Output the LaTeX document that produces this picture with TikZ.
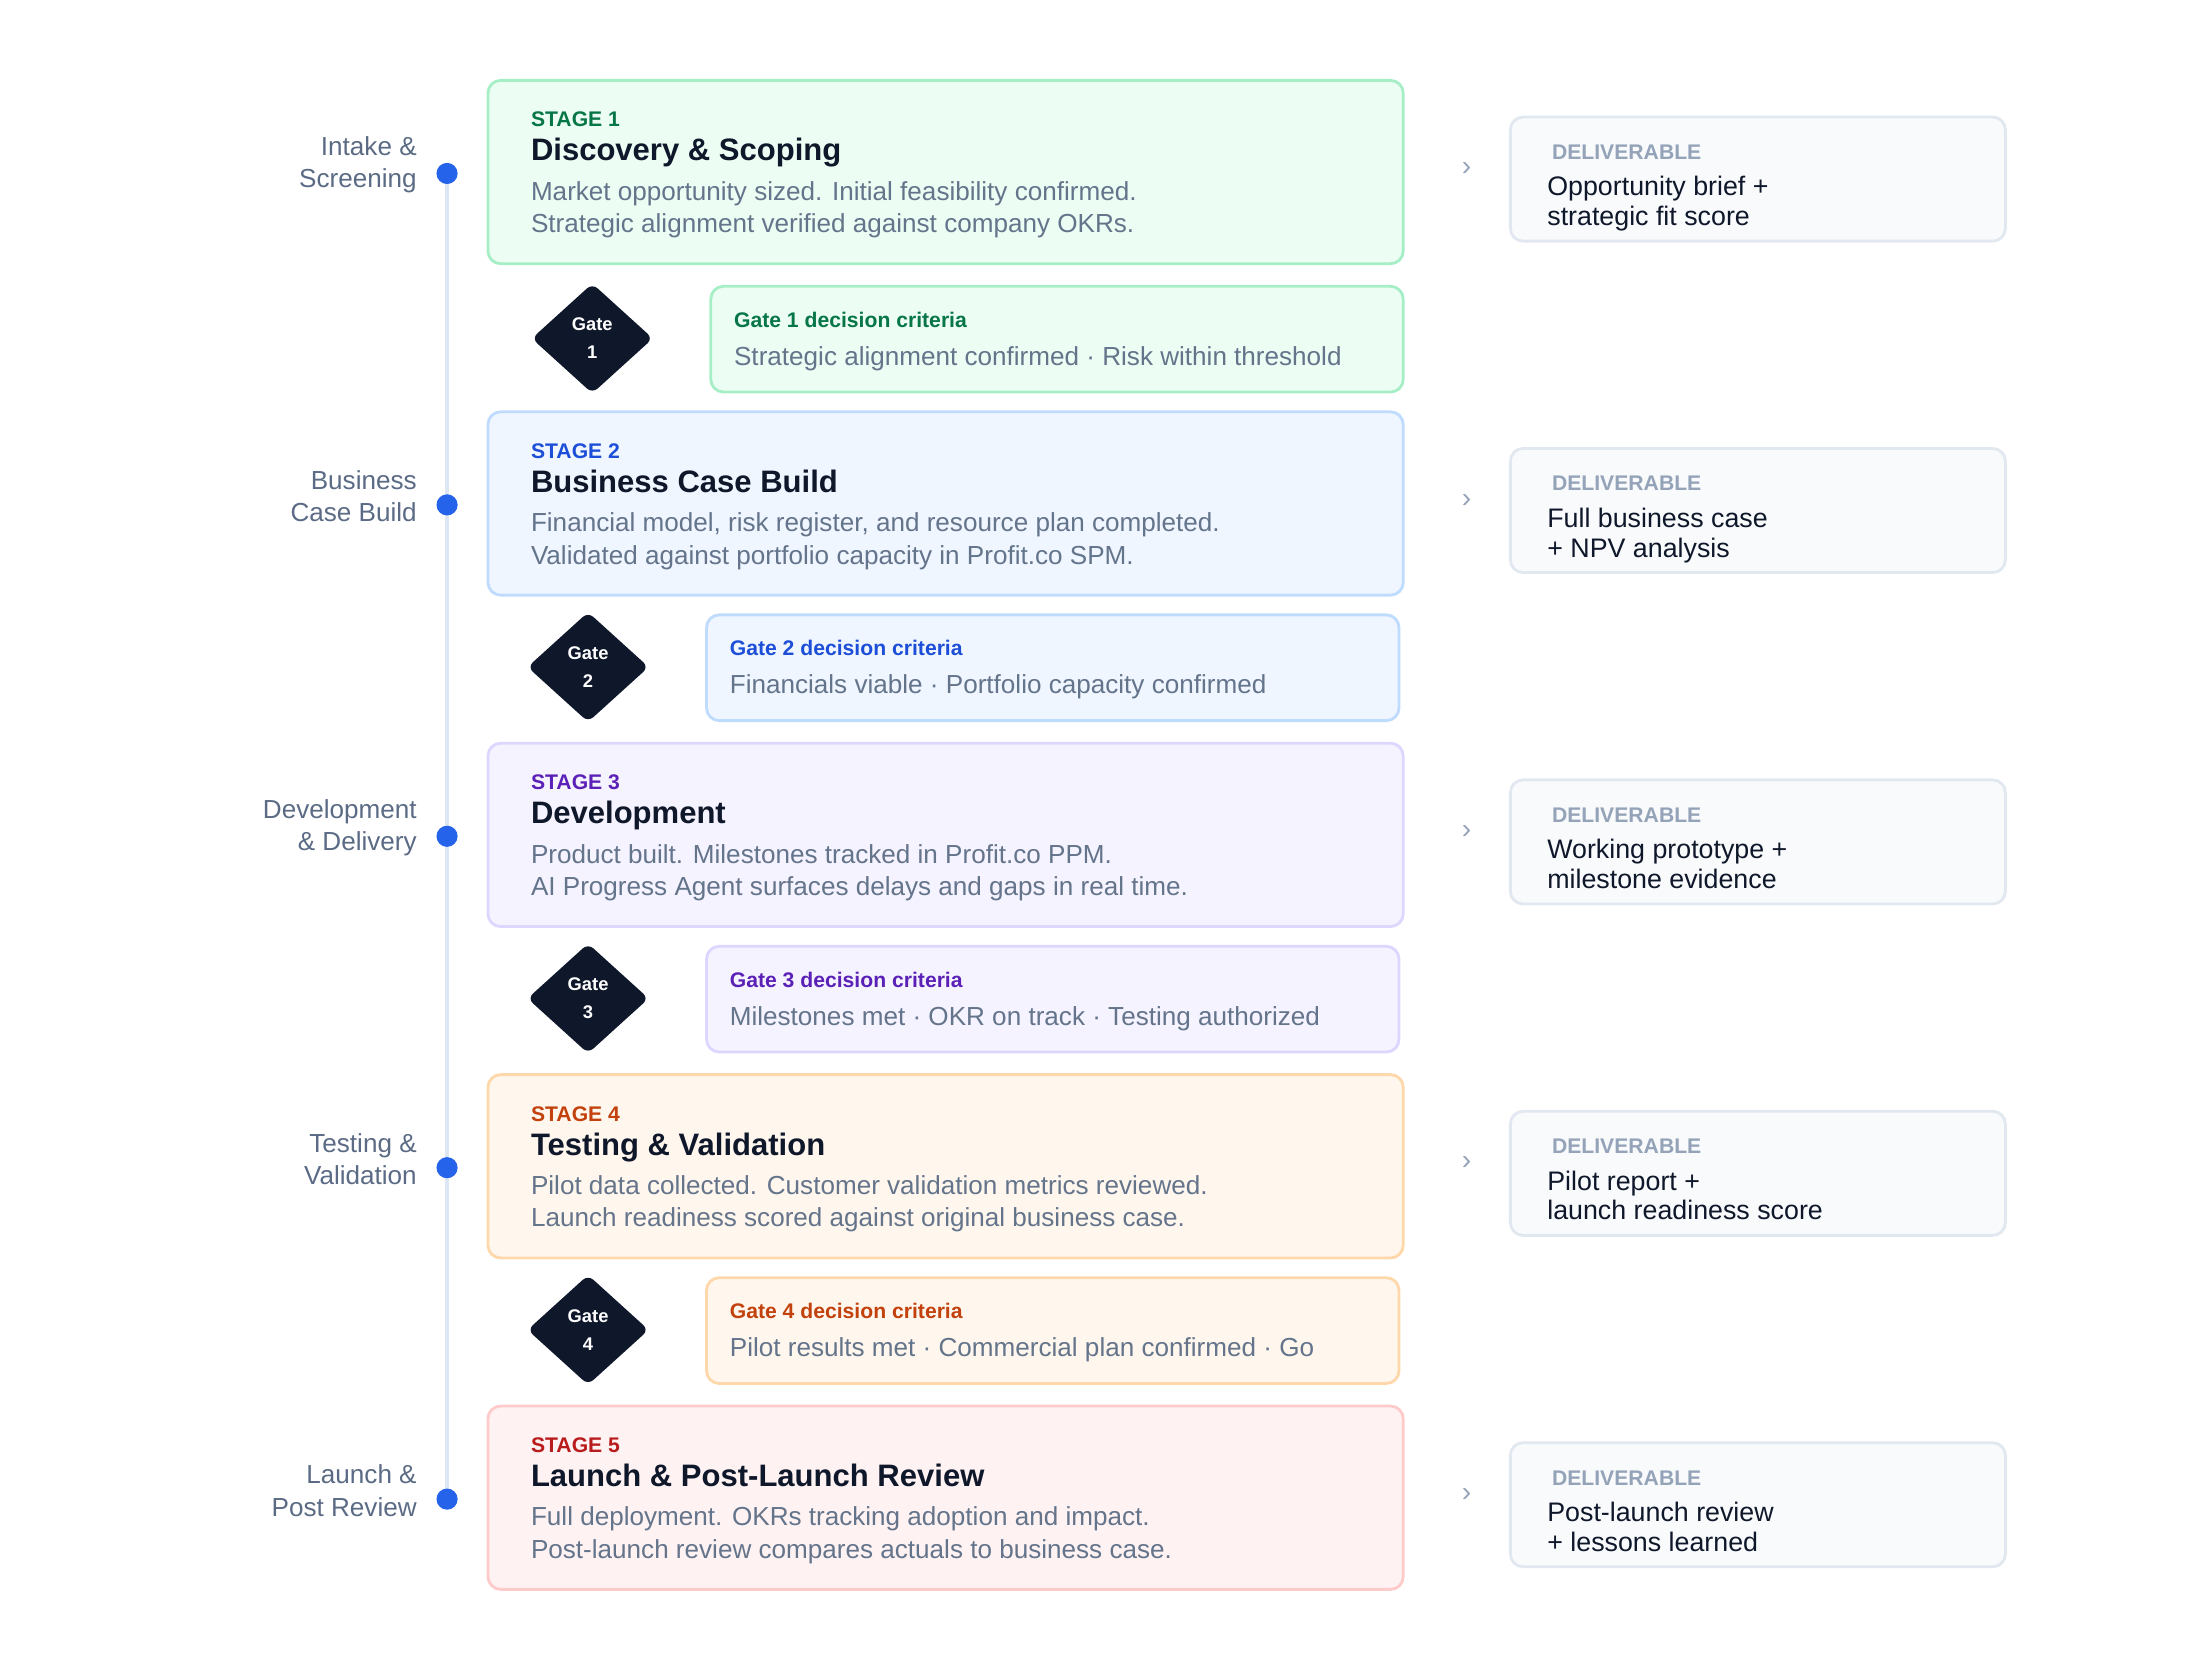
\documentclass[tikz,border=0pt]{standalone}
\usepackage{fontspec}
\setmainfont{Liberation Sans}
\usetikzlibrary{shapes.geometric}
\definecolor{g1}{HTML}{067647}\definecolor{f1}{HTML}{ECFDF3}\definecolor{b1}{HTML}{A6EFC6}
\definecolor{g2}{HTML}{1D4ED8}\definecolor{f2}{HTML}{EFF6FF}\definecolor{b2}{HTML}{BFDBFE}
\definecolor{g3}{HTML}{5B21B6}\definecolor{f3}{HTML}{F5F3FF}\definecolor{b3}{HTML}{DDD6FE}
\definecolor{g4}{HTML}{C2410C}\definecolor{f4}{HTML}{FFF7ED}\definecolor{b4}{HTML}{FED7AA}
\definecolor{g5}{HTML}{B91C1C}\definecolor{f5}{HTML}{FEF2F2}\definecolor{b5}{HTML}{FECACA}
\definecolor{desc}{HTML}{64748B}\definecolor{ink}{HTML}{0F172A}
\definecolor{dfill}{HTML}{F8FAFC}\definecolor{dbord}{HTML}{E2E8F0}\definecolor{dhead}{HTML}{94A3B8}
\definecolor{dot}{HTML}{2563EB}\definecolor{tl}{HTML}{DCE6F5}\definecolor{lab}{HTML}{5B6B85}
\tikzset{
 box/.style={rounded corners=9pt,line width=2pt},
 small/.style={font=\fontsize{15}{18}\selectfont\bfseries,anchor=base west},
 title/.style={font=\fontsize{22}{26}\selectfont\bfseries,text=ink,anchor=base west},
 dsc/.style={font=\fontsize{18.5}{23}\selectfont,text=desc,anchor=base west},
 lbl/.style={font=\fontsize{18.5}{23}\selectfont,text=lab,align=right,anchor=east},
 gd/.style={diamond,fill=ink,minimum width=86pt,minimum height=78pt,inner sep=0pt,rounded corners=5pt,text=white,font=\fontsize{13}{20}\selectfont\bfseries,align=center},
 dl/.style={rounded corners=9pt,line width=2pt,draw=dbord,fill=dfill},
 dtext/.style={font=\fontsize{19}{21}\selectfont,text=ink,anchor=north west,align=left,inner sep=0pt},
 chev/.style={font=\fontsize{20}{20}\selectfont,text=dhead},
}
\newcommand\stg[7]{%
 \draw[box,draw=b#1,fill=f#1] (346,#2) rectangle ++(649,130);
 \node[small,text=g#1] (s#1) at (373,#2+33) {STAGE #1};
 \node[title] (t#1) at (373,#2+57) {#3};
 \node[dsc] (d#1a) at (373,#2+85) {#4};
 \node[dsc] (d#1b) at (373,#2+108) {#5};
 \node[circle,fill=dot,inner sep=0pt,minimum size=15pt] (dot#1) at (317,#2+66) {};
 \node[lbl] (l#1) at (299,#2+60) {#6};
 \node[chev] (c#1) at (1040,#2+63) {›};
 \draw[dl] (1071,#2+26) rectangle ++(351,88);
 \node[small,text=dhead] (dh#1) at (1097,#2+56) {DELIVERABLE};
 \node[dtext] (dt#1) at (1097,#2+68) {#7};
}
\newcommand\gate[6]{%
 \draw[box,draw=b#1,fill=f#1] (#3,#2) rectangle (#6,#2+75);
 \node[gd] (gt#1) at (#4,#2+37) {Gate\\#1};
 \node[small,text=g#1] (gc#1) at (#3+13,#2+29) {Gate #1 decision criteria};
 \node[dsc] (gx#1) at (#3+13,#2+56) {#5};
}
\begin{document}
\begin{tikzpicture}[x=1pt,y=-1pt]
\useasboundingbox (0,0) rectangle (1560,1180);
\draw[tl,line width=2.5pt] (317,123) -- (317,1063);
\stg{1}{57}{Discovery \& Scoping}{Market opportunity sized. Initial feasibility confirmed.}{Strategic alignment verified against company OKRs.}{Intake \&\\Screening}{Opportunity brief +\\strategic fit score}
\stg{2}{292}{Business Case Build}{Financial model, risk register, and resource plan completed.}{Validated against portfolio capacity in Profit.co SPM.}{Business\\Case Build}{Full business case\\+ NPV analysis}
\stg{3}{527}{Development}{Product built. Milestones tracked in Profit.co PPM.}{AI Progress Agent surfaces delays and gaps in real time.}{Development\\\& Delivery}{Working prototype +\\milestone evidence}
\stg{4}{762}{Testing \& Validation}{Pilot data collected. Customer validation metrics reviewed.}{Launch readiness scored against original business case.}{Testing \&\\Validation}{Pilot report +\\launch readiness score}
\stg{5}{997}{Launch \& Post-Launch Review}{Full deployment. OKRs tracking adoption and impact.}{Post-launch review compares actuals to business case.}{Launch \&\\Post Review}{Post-launch review\\+ lessons learned}
\gate{1}{203}{504}{420}{Strategic alignment confirmed · Risk within threshold}{995}
\gate{2}{436}{501}{417}{Financials viable · Portfolio capacity confirmed}{992}
\gate{3}{671}{501}{417}{Milestones met · OKR on track · Testing authorized}{992}
\gate{4}{906}{501}{417}{Pilot results met · Commercial plan confirmed · Go}{992}
\end{tikzpicture}
\end{document}
